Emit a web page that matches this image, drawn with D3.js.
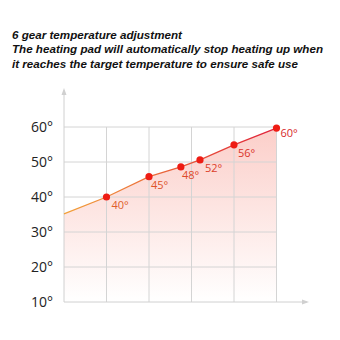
<!DOCTYPE html>
<html><head><meta charset="utf-8">
<script src="https://cdn.jsdelivr.net/npm/d3@7"></script>
<style>body{margin:0;background:#fff}svg{display:block}</style>
</head><body>
<script>
const titleLines = ["6 gear temperature adjustment","The heating pad will automatically stop heating up when","it reaches the target temperature to ensure safe use"];
const yTicks = [10,20,30,40,50,60];
const xGrid = [1,2,3,4,5];
const pointX = [1,2,2.75,3.2,4,5];
const pointY = [40,45.8,48.6,50.6,54.9,59.7];
const pointLabels = ["40°","45°","48°","52°","56°","60°"];
const lineStartX = 0, lineStartY = 35.2;

const W=340,H=340;
const svg=d3.select("body").append("svg").attr("width",W).attr("height",H);
const x=d3.scaleLinear().domain([0,5]).range([64,276.5]);
const y=d3.scaleLinear().domain([10,60]).range([302,127]);

const titleW=[170,311,286];
svg.append("g").selectAll("text").data(titleLines).join("text")
 .attr("x",12).attr("y",(d,i)=>38.5+i*14.5)
 .attr("font-family","Liberation Sans, Arial, sans-serif").attr("font-size",11.6)
 .attr("font-weight","bold").attr("font-style","italic").attr("fill","#111")
 .attr("textLength",(d,i)=>titleW[i]).attr("lengthAdjust","spacingAndGlyphs").text(d=>d);

const defs=svg.append("defs");
const fg=defs.append("linearGradient").attr("id","fillg").attr("x1",0).attr("y1",0).attr("x2",0).attr("y2",1);
fg.append("stop").attr("offset","0%").attr("stop-color","#fbc9c3");
fg.append("stop").attr("offset","100%").attr("stop-color","#ffffff");
const lg=defs.append("linearGradient").attr("id","lineg").attr("gradientUnits","userSpaceOnUse")
 .attr("x1",x(0)).attr("x2",x(5)).attr("y1",0).attr("y2",0);
lg.append("stop").attr("offset","0%").attr("stop-color","#f2a23a");
lg.append("stop").attr("offset","100%").attr("stop-color","#e0203a");

const pts=[[lineStartX,lineStartY]].concat(pointX.map((d,i)=>[d,pointY[i]]));
const area=d3.area().x(d=>x(d[0])).y0(y(10)).y1(d=>y(d[1]));
svg.append("path").datum(pts).attr("d",area).attr("fill","url(#fillg)").attr("opacity",0.9);

svg.append("g").selectAll("line").data(yTicks.slice(1)).join("line")
 .attr("x1",x(0)).attr("x2",x(5)).attr("y1",d=>y(d)).attr("y2",d=>y(d))
 .attr("stroke","#d4d4d4").attr("stroke-width",1);
svg.append("g").selectAll("line").data(xGrid).join("line")
 .attr("x1",d=>x(d)).attr("x2",d=>x(d)).attr("y1",y(60)).attr("y2",y(10))
 .attr("stroke","#d4d4d4").attr("stroke-width",1);
svg.append("line").attr("x1",x(0)).attr("x2",x(0)).attr("y1",y(10)).attr("y2",90).attr("stroke","#d0d0d0");
svg.append("path").attr("d",`M${x(0)-2.5},95 L${x(0)},88 L${x(0)+2.5},95 Z`).attr("fill","#d0d0d0");
svg.append("line").attr("x1",x(0)).attr("x2",307).attr("y1",y(10)).attr("y2",y(10)).attr("stroke","#d0d0d0");
svg.append("path").attr("d",`M302,${y(10)-2.5} L309,${y(10)} L302,${y(10)+2.5} Z`).attr("fill","#d0d0d0");

svg.append("g").selectAll("text").data(yTicks).join("text")
 .attr("x",53).attr("y",d=>y(d)+5).attr("text-anchor","end")
 .attr("font-family","Open Sans, sans-serif").attr("font-size",14).attr("fill","#222").text(d=>d+"°");

const line=d3.line().x(d=>x(d[0])).y(d=>y(d[1]));
svg.append("path").datum(pts).attr("d",line).attr("fill","none").attr("stroke","url(#lineg)").attr("stroke-width",1.3);

svg.append("g").selectAll("circle").data(pointX).join("circle")
 .attr("cx",d=>x(d)).attr("cy",(d,i)=>y(pointY[i])).attr("r",3.6).attr("fill","#ee1c14");
const dx=[5,2,1,5,4,4];
svg.append("g").selectAll("text").data(pointLabels).join("text")
 .attr("x",(d,i)=>x(pointX[i])+dx[i]).attr("y",(d,i)=>y(pointY[i])+(i===5?9:12))
 .attr("font-family","Open Sans, sans-serif").attr("font-size",11)
 .attr("fill",(d,i)=>d3.interpolateRgb("#e0602a","#d8282a")(i/5)).text(d=>d);
</script>
</body></html>
